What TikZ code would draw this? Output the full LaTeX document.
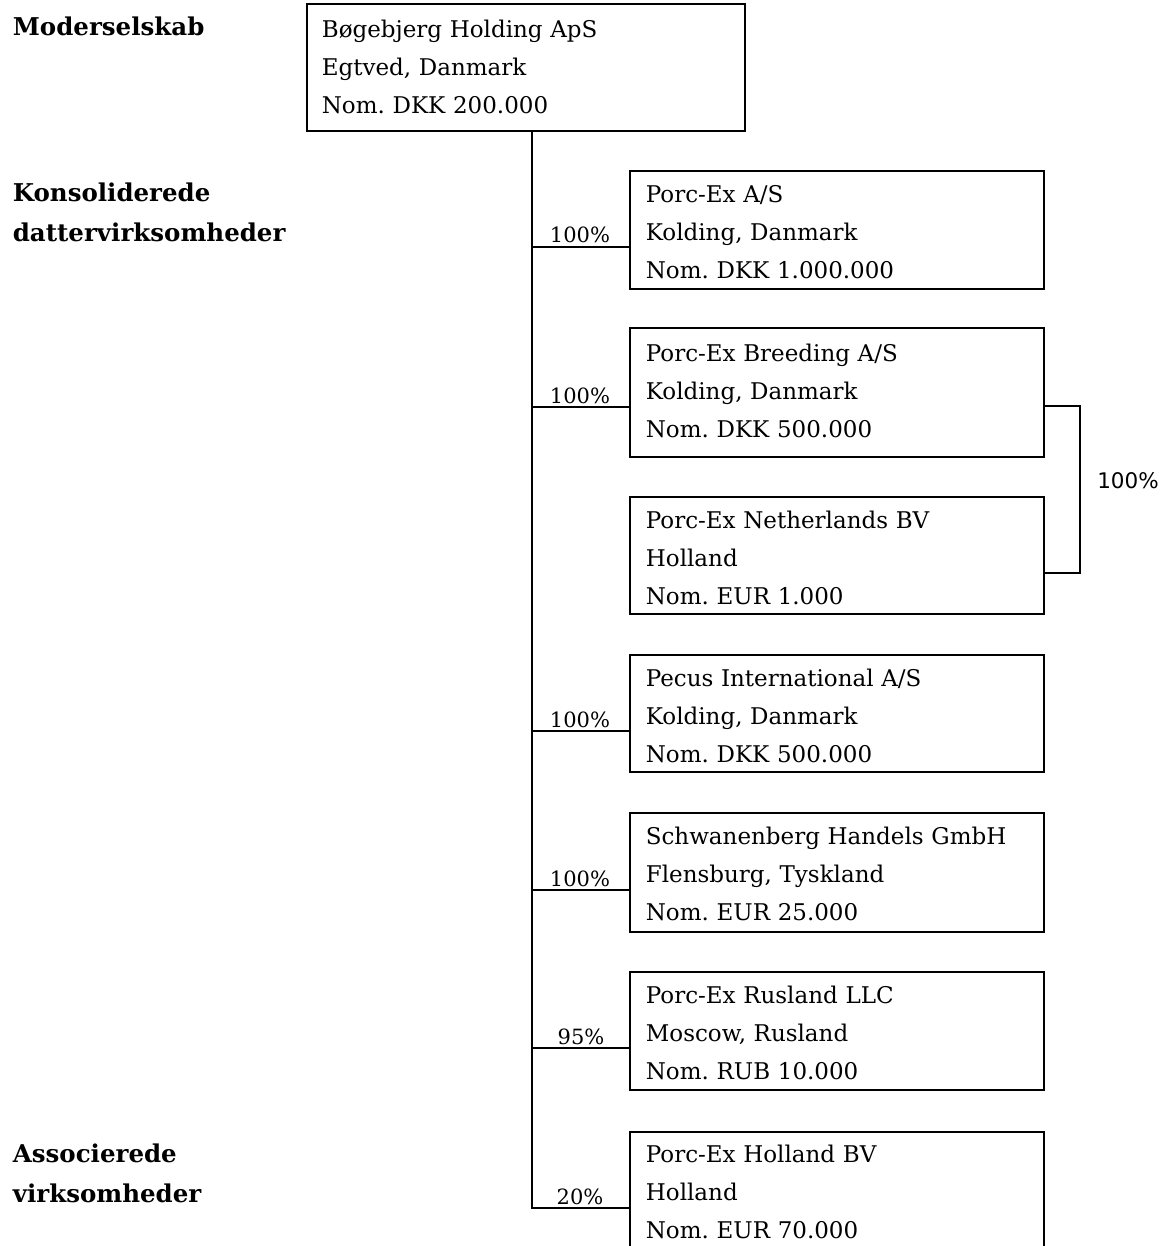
\documentclass[tikz,border=0pt]{standalone}
\usepackage{fontspec}
\setmainfont{DejaVu Serif}
\newfontfamily\sansf{DejaVu Sans}
\newcommand\boxtxt[5]{\rule{0pt}{#4pt}#1\\#2\\#3\rule[-#5pt]{0pt}{#5pt}}
\begin{document}
\frenchspacing
\begin{tikzpicture}[x=1pt,y=-1pt,line width=1.7pt,
  every node/.style={line width=1.7pt},
  cbox/.style={draw, anchor=north west, align=left, inner xsep=16pt, inner ysep=0pt,
    text width=382pt, font=\fontsize{23}{38}\selectfont},
  pct/.style={anchor=base, inner sep=0pt, font=\fontsize{21}{24}\selectfont},
  side/.style={anchor=base west, align=left, inner sep=0pt, font=\bfseries\fontsize{24.5}{40}\selectfont}]
\useasboundingbox (0,0) rectangle (1168,1246);
% parent
\node[cbox, text width=408pt, inner xsep=15pt] (top) at (306,3)
  {\boxtxt{Bøgebjerg Holding ApS}{Egtved, Danmark}{Nom. DKK 200.000}{34}{17}};
% subsidiaries
\node[cbox] (b1) at (629,170) {\boxtxt{Porc-Ex A/S}{Kolding, Danmark}{Nom. DKK 1.000.000}{32}{10}};
\node[cbox] (b2) at (629,327) {\boxtxt{Porc-Ex Breeding A/S}{Kolding, Danmark}{Nom. DKK 500.000}{34}{19}};
\node[cbox] (b3) at (629,496) {\boxtxt{Porc-Ex Netherlands BV}{Holland}{Nom. EUR 1.000}{32}{9}};
\node[cbox] (b4) at (629,654) {\boxtxt{Pecus International A/S}{Kolding, Danmark}{Nom. DKK 500.000}{32}{9}};
\node[cbox] (b5) at (629,812) {\boxtxt{Schwanenberg Handels GmbH}{Flensburg, Tyskland}{Nom. EUR 25.000}{32}{11}};
\node[cbox] (b6) at (629,971) {\boxtxt{Porc-Ex Rusland LLC}{Moscow, Rusland}{Nom. RUB 10.000}{32}{10}};
\node[cbox] (b7) at (629,1131) {\boxtxt{Porc-Ex Holland BV}{Holland}{Nom. EUR 70.000}{31}{20}};
% junctions on trunk
\coordinate (j1) at (532,247);
\coordinate (j2) at (532,407);
\coordinate (j4) at (532,731);
\coordinate (j5) at (532,890);
\coordinate (j6) at (532,1048);
\coordinate (j7) at (532,1208);
\draw (top.south -| j1) -- (j7) -- (j7 -| b7.west);
\draw (j1) -- (j1 -| b1.west);
\draw (j2) -- (j2 -| b2.west);
\draw (j4) -- (j4 -| b4.west);
\draw (j5) -- (j5 -| b5.west);
\draw (j6) -- (j6 -| b6.west);
% percentages
\node[pct] (p1) at (580,243) {100\%};
\node[pct] (p2) at (580,403) {100\%};
\node[pct] (p4) at (580,727) {100\%};
\node[pct] (p5) at (580,886) {100\%};
\node[pct] (p6) at (581,1044) {95\%};
\node[pct] (p7) at (580,1204) {20\%};
% bracket between Breeding and Netherlands
\coordinate (r1) at (1080,406);
\coordinate (r2) at (1080,573);
\draw (r1 -| b2.east) -- (r1) -- (r2) -- (r2 -| b3.east);
\node[anchor=base, inner sep=0pt, font=\sansf\fontsize{21.5}{24}\selectfont] (p3) at (1128,488) {100\%};
% side labels
\node[side] (l1) at (12,36) {Moderselskab};
\node[side] (l2) at (12,242) {Konsoliderede\\dattervirksomheder};
\node[side] (l3) at (12,1202) {Associerede\\virksomheder};
\end{tikzpicture}
\end{document}
